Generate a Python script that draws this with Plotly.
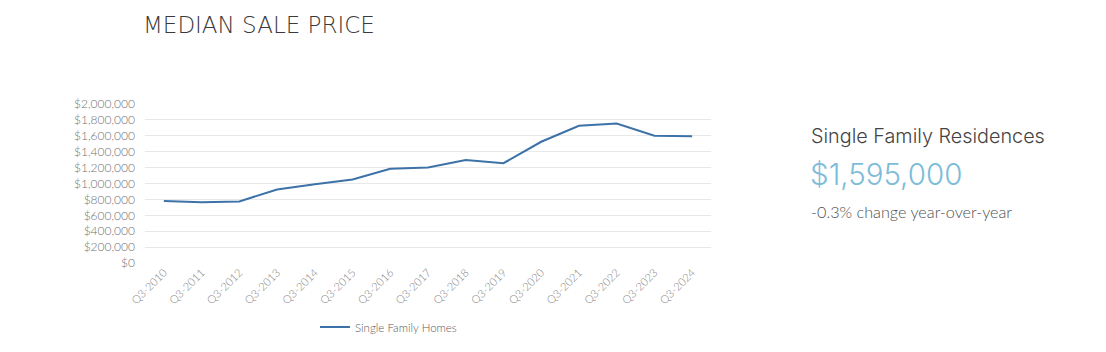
import plotly.graph_objects as go

quarters = ["Q3-2010", "Q3-2011", "Q3-2012", "Q3-2013", "Q3-2014", "Q3-2015", "Q3-2016",
            "Q3-2017", "Q3-2018", "Q3-2019", "Q3-2020", "Q3-2021", "Q3-2022", "Q3-2023", "Q3-2024"]
median_price = [780000, 765000, 775000, 925000, 990000, 1050000, 1185000,
                1200000, 1295000, 1255000, 1525000, 1725000, 1755000, 1600000, 1595000]
y_ticks = [0, 200000, 400000, 600000, 800000, 1000000, 1200000, 1400000, 1600000, 1800000, 2000000]

W, H = 1106, 352
L, R, T, B = 145, 711, 104, 264

fig = go.Figure()
fig.add_trace(go.Scatter(
    x=quarters, y=median_price, mode="lines", name="Single Family Homes",
    line=dict(color="#3d72a8", width=2),
))

fig.update_layout(
    width=W, height=H,
    margin=dict(l=L, r=W - R, t=T, b=H - B),
    paper_bgcolor="white", plot_bgcolor="white",
    font=dict(family="Lato", color="#7f7f7f"),
    showlegend=True,
    legend=dict(orientation="h", x=(315 - L) / (R - L), xanchor="left",
                y=-(327 - B) / (B - T), yanchor="middle",
                font=dict(size=11.5, color="#5a5a5a", family="Lato", weight=300),
                itemwidth=30, bgcolor="rgba(0,0,0,0)"),
)
fig.update_xaxes(
    type="category", range=[-0.5, len(quarters) - 0.5],
    tickangle=-45, tickfont=dict(size=11, color="#858585", family="Lato", weight=300),
    showgrid=False, showline=False, ticks="", zeroline=False,
)
fig.update_yaxes(
    range=[0, 2000000], tickvals=y_ticks, tickformat="$,.0f",
    tickfont=dict(size=12, color="#6f6f6f", family="Lato", weight=300),
    showgrid=True, gridcolor="#e8e8e8", gridwidth=1, zeroline=False,
    showline=False, ticks="", ticklabelstandoff=9,
)

fig.add_annotation(text="MEDIAN SALE PRICE", xref="paper", yref="paper",
                   x=(141 - L) / (R - L), y=1 + (T - 24) / (B - T),
                   xanchor="left", yanchor="middle", showarrow=False,
                   font=dict(family="DejaVu Sans", size=23, color="#3a3a3a", weight=300))
fig.add_annotation(text="Single Family Residences", xref="paper", yref="paper",
                   x=(809 - L) / (R - L), y=(B - 136) / (B - T),
                   xanchor="left", yanchor="middle", showarrow=False,
                   font=dict(family="Inter", size=19.8, color="#444444", weight=300))
fig.add_annotation(text="$1,595,000", xref="paper", yref="paper",
                   x=(808 - L) / (R - L), y=(B - 174) / (B - T),
                   xanchor="left", yanchor="middle", showarrow=False,
                   font=dict(family="Inter", size=29.5, color="#7dbcd9", weight=300))
fig.add_annotation(text="-0.3% change year-over-year", xref="paper", yref="paper",
                   x=(809 - L) / (R - L), y=(B - 212) / (B - T),
                   xanchor="left", yanchor="middle", showarrow=False,
                   font=dict(family="Lato", size=16.2, color="#4f4f4f", weight=300))

fig.write_html("out.html")
